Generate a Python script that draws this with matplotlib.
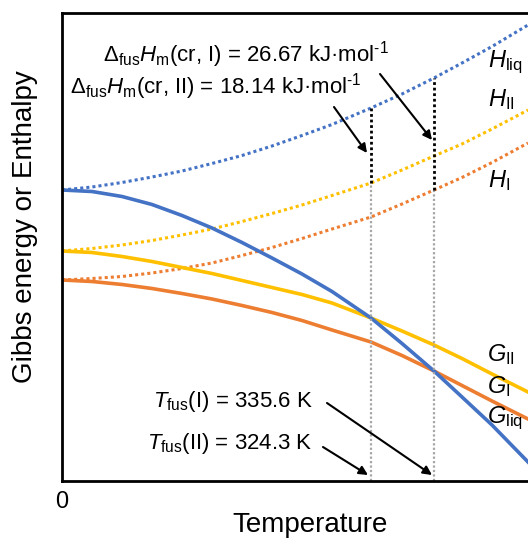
import numpy as np
import matplotlib.pyplot as plt

plt.rcParams['font.family'] = ['Liberation Sans', 'DejaVu Sans']
plt.rcParams['mathtext.fontset'] = 'custom'
plt.rcParams['mathtext.rm'] = 'Liberation Sans'
plt.rcParams['mathtext.it'] = 'Liberation Sans:italic'

# schematic temperature axis (arbitrary units, 0 at left spine)
T = np.array([0, 30, 60, 90, 120, 150, 180, 210, 240, 270, 309, 340, 372, 400, 430, 466])
i_fus2 = 10   # T_fus(II)
i_fus1 = 12   # T_fus(I)

# enthalpies (arbitrary units)
H_liq = np.array([291, 294, 298.5, 304, 310, 317.5, 325.5, 335, 345.5, 356.5,
                  373, 387, 403, 418, 434.5, 456])
H_II = np.array([230, 232.5, 236, 240.5, 246, 252, 259.5, 267.5, 276, 285.5,
                 298, 311, 325, 337, 352, 371])
H_I = np.array([201, 202.5, 204.5, 208, 212.5, 218, 225.5, 233.5, 242.5, 252,
                264, 277, 291, 303.5, 318.5, 338])

# Gibbs energies (arbitrary units)
G_liq = np.array([291, 289.5, 284.5, 276.5, 265.5, 253, 238.5, 223, 207, 189.5,
                  163, 137.5, 110, 84, 56, 19])
G_II = np.array([230, 228.5, 224.5, 219.5, 213.5, 207.5, 200.5, 193.5, 186.5, 178,
                 163, 150, 136, 122.5, 107, 89])
G_I = np.array([201, 199.5, 196.5, 192.5, 187.5, 182, 175.5, 168.5, 160.5, 151,
                139, 125.5, 110, 95.5, 80, 62])

blue = '#4472C4'
orange = '#ED7D31'
yellow = '#FFC000'

fig = plt.figure(figsize=(5.28, 5.38), dpi=100)
ax = fig.add_axes([62/528, 57/538, 470/528, 468/538])

dot = (0, (1, 1))
ax.plot(T, H_liq, color=blue, lw=2.2, ls=dot)
ax.plot(T, H_II, color=yellow, lw=2.2, ls=dot)
ax.plot(T, H_I, color=orange, lw=2.2, ls=dot)
ax.plot(T, G_II, color=yellow, lw=2.6)
ax.plot(T, G_I, color=orange, lw=2.6)
ax.plot(T, G_liq, color=blue, lw=2.6)

# melting temperatures and enthalpy gaps
ax.plot([T[i_fus2]]*2, [0, H_II[i_fus2]], color='#A6A6A6', lw=1.6, ls=dot)
ax.plot([T[i_fus1]]*2, [0, H_I[i_fus1]], color='#A6A6A6', lw=1.6, ls=dot)
ax.plot([T[i_fus2]]*2, [H_II[i_fus2], H_liq[i_fus2]], color='black', lw=2, ls=dot)
ax.plot([T[i_fus1]]*2, [H_I[i_fus1], H_liq[i_fus1]], color='black', lw=2, ls=dot)

fs = 16
ax.text(41, 426, r'$\Delta_{\mathrm{fus}}H_{\mathrm{m}}$(cr, I) = 26.67 kJ·mol$^{\text{-1}}$',
        fontsize=fs, ha='left', va='center')
ax.text(8, 394, r'$\Delta_{\mathrm{fus}}H_{\mathrm{m}}$(cr, II) = 18.14 kJ·mol$^{\text{-1}}$',
        fontsize=fs, ha='left', va='center')
ax.text(251, 79, r'$T_{\mathrm{fus}}$(I) = 335.6 K', fontsize=fs, ha='right', va='center')
ax.text(251, 38, r'$T_{\mathrm{fus}}$(II) = 324.3 K', fontsize=fs, ha='right', va='center')

ap = dict(arrowstyle='-|>', color='black', lw=1.5, mutation_scale=13, shrinkA=0, shrinkB=0)
ax.annotate('', xy=(370, 341), xytext=(318, 407), arrowprops=ap)
ax.annotate('', xy=(305, 328), xytext=(272, 374), arrowprops=ap)
ax.annotate('', xy=(370, 6), xytext=(265, 78), arrowprops=ap)
ax.annotate('', xy=(306, 6), xytext=(261, 34), arrowprops=ap)

ls = 17
ax.text(426, 419, r'$H_{\mathrm{liq}}$', fontsize=ls, va='center', clip_on=False)
ax.text(426, 381, r'$H_{\mathrm{II}}$', fontsize=ls, va='center', clip_on=False)
ax.text(426, 300, r'$H_{\mathrm{I}}$', fontsize=ls, va='center', clip_on=False)
ax.text(425, 126, r'$G_{\mathrm{II}}$', fontsize=ls, va='center', clip_on=False)
ax.text(425, 94, r'$G_{\mathrm{I}}$', fontsize=ls, va='center', clip_on=False)
ax.text(425, 63, r'$G_{\mathrm{liq}}$', fontsize=ls, va='center', clip_on=False)

ax.set_xlim(0, 470)
ax.set_ylim(0, 468)
ax.set_xticks([0])
ax.set_xticklabels(['0'])
ax.set_yticks([])
ax.tick_params(axis='x', length=0, labelsize=17, pad=7)
for s in ax.spines.values():
    s.set_linewidth(2)

fig.text(310/528, 1-532/538, 'Temperature', fontsize=20, ha='center', va='baseline')
fig.text(25/528, 1-227/538, 'Gibbs energy or Enthalpy', fontsize=20, rotation=90,
         ha='center', va='center')

plt.savefig('out.png', dpi=100)
